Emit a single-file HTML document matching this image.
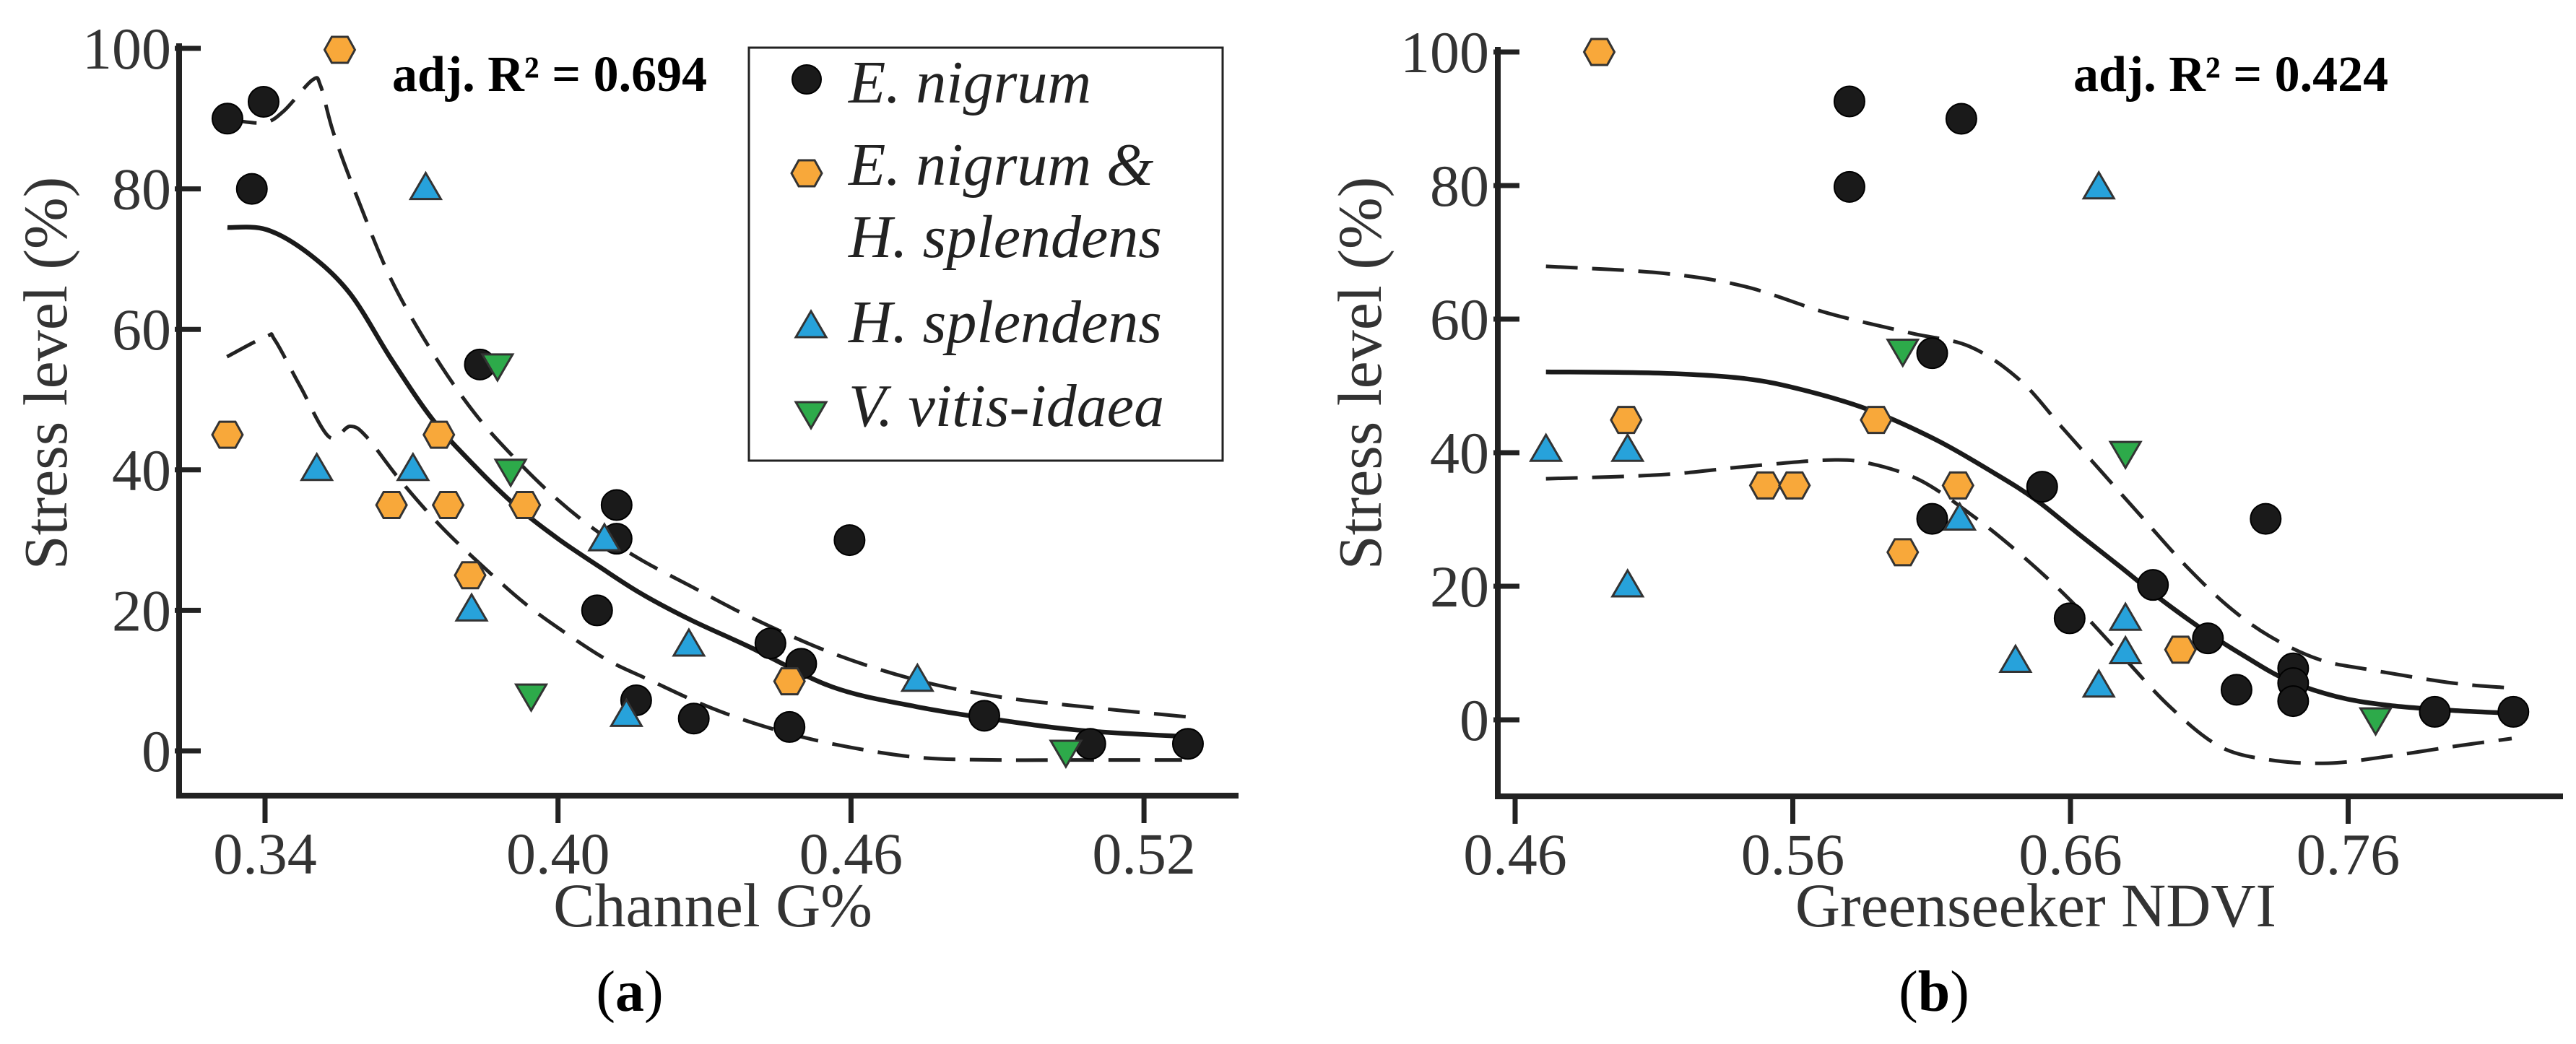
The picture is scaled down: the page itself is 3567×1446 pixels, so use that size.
<!DOCTYPE html>
<html><head><meta charset="utf-8"><style>
html,body{margin:0;padding:0;background:#fff;}
svg{display:block;font-family:"Liberation Serif",serif;}
</style></head><body>
<svg id="fig" width="3567" height="1446" viewBox="0 0 3567 1446" xmlns="http://www.w3.org/2000/svg">
<rect width="3567" height="1446" fill="#fff"/>
<g id="pa"></g>
<g id="pb"></g>
<g>
<rect x="1037" y="66" width="656" height="572" fill="#fff" stroke="#222" stroke-width="3"/>
<circle cx="1117" cy="110" r="20" fill="#1a1a1a" stroke="#000" stroke-width="2"/>
<text x="1175" y="142" font-size="84" font-style="italic" fill="#222">E. nigrum</text>
<polygon points="1096,240 1106,222 1128,222 1138,240 1128,258 1106,258" fill="#F8A83A" stroke="#333" stroke-width="3"/>
<text x="1175" y="256" font-size="84" font-style="italic" fill="#222">E. nigrum &amp;</text>
<text x="1175" y="356" font-size="84" font-style="italic" fill="#222">H. splendens</text>
<polygon points="1123,431 1102,467 1144,467" fill="#27A2DB" stroke="#333" stroke-width="3"/>
<text x="1175" y="474" font-size="84" font-style="italic" fill="#222">H. splendens</text>
<polygon points="1102,557 1144,557 1123,593" fill="#2DAA4A" stroke="#333" stroke-width="3"/>
<text x="1175" y="590" font-size="84" font-style="italic" fill="#222">V. vitis-idaea</text>
</g>
</svg>
<script>
// ---------- Panel A data ----------
const aBlackX=[0.3323,0.3397,0.3373,0.384,0.412,0.412,0.408,0.416,0.4278,0.4435,0.4498,0.4474,0.4597,0.4873,0.509,0.529];
const aBlackY=[90,92.4,80,55,35,30.2,20,7.2,4.6,15.3,12.4,3.4,30,5,1,1];
const aOrangeX=[0.3553,0.3323,0.3756,0.3659,0.3775,0.3932,0.382,0.4474];
const aOrangeY=[99.8,45,45,35,35,35,25,9.9];
const aBlueX=[0.3729,0.3506,0.3703,0.3823,0.4095,0.4268,0.414,0.4736];
const aBlueY=[80,40,40,20,30,15,5,10];
const aGreenX=[0.3876,0.3903,0.3945,0.504];
const aGreenY=[55,40,8,0];
const aFitX=[0.3323,0.3403,0.3489,0.3574,0.3659,0.3744,0.383,0.3915,0.4,0.4085,0.417,0.4273,0.4392,0.4562,0.4733,0.4903,0.5074,0.5295];
const aFitY=[74.5,74.2,70.8,65.1,55.7,47.1,40.5,34.8,30.2,26.2,22.4,18.6,14.8,9.1,6.3,4.4,2.9,2.0];
const aUpX=[0.3318,0.3395,0.3437,0.3497,0.3514,0.354,0.3591,0.3659,0.3744,0.383,0.3915,0.4,0.4085,0.417,0.4273,0.4392,0.4562,0.4733,0.4903,0.5074,0.5295];
const aUpY=[90,89.4,91,95.5,94.6,88,78.4,67,56.6,48,41.4,35.7,31,27.2,23.4,19.1,13.9,10.1,7.7,6.3,4.8];
const aLoX=[0.3322,0.3403,0.342,0.3472,0.3531,0.3574,0.3608,0.3676,0.3761,0.3847,0.3932,0.4017,0.4102,0.4187,0.4307,0.4426,0.4562,0.4733,0.4903,0.5074,0.5278];
const aLoY=[56.1,59,58.5,51.9,44.7,46.2,44.7,38.6,31.9,26.2,21,16.7,12.9,10.1,6.3,3.4,1.0,-0.9,-1.3,-1.3,-1.3];
const aXTicks=[0.34,0.40,0.46,0.52];
const aXTickLabels=["0.34","0.40","0.46","0.52"];
const yTicks=[0,20,40,60,80,100];
const yTickLabels=["0","20","40","60","80","100"];
// ---------- Panel B data ----------
const bBlackX=[0.5804,0.5804,0.6207,0.6102,0.6102,0.6498,0.6597,0.6897,0.7095,0.7198,0.7303,0.7402,0.7402,0.7402,0.7912,0.8195];
const bBlackY=[92.6,79.8,90,54.9,30.1,34.9,15.2,20.2,12.2,4.5,30.1,7.7,5.5,2.8,1.2,1.2];
const bOrangeX=[0.4903,0.5,0.5501,0.5606,0.59,0.5996,0.6195,0.6996];
const bOrangeY=[100,44.9,35.1,35.1,44.9,25.1,35.1,10.5];
const bBlueX=[0.4711,0.5005,0.5005,0.6201,0.6402,0.6702,0.6702,0.6798,0.6798];
const bBlueY=[40.3,40.3,20,30,8.7,79.6,5,15,10];
const bGreenX=[0.5996,0.6798,0.7699];
const bGreenY=[55.4,40.1,0.2];
const bFitX=[0.4711,0.5126,0.5426,0.5636,0.5876,0.6117,0.6327,0.6477,0.6627,0.6777,0.6927,0.7077,0.7228,0.7378,0.7556,0.7738,0.7978,0.8189];
const bFitY=[52.1,51.9,51.1,49.4,46.4,41.9,36.9,32.9,27.9,23,18,13.5,9.5,6,3.5,2.2,1.4,1];
const bUpX=[0.4711,0.5126,0.5426,0.5726,0.6026,0.6237,0.6417,0.6567,0.6717,0.6867,0.7017,0.7168,0.7318,0.7498,0.7678,0.7978,0.8174];
const bUpY=[67.9,66.9,64.9,60.9,57.9,55.9,50.9,43.9,36.9,29.9,23,17,12.5,9,7.5,5.5,4.8];
const bLoX=[0.4711,0.5126,0.5426,0.5726,0.5876,0.6057,0.6237,0.6417,0.6597,0.6777,0.6957,0.7138,0.7318,0.7528,0.7738,0.7978,0.8189];
const bLoY=[36.1,36.7,37.9,38.9,38.4,35.9,30.9,24.9,18,10,2,-4,-6,-6.5,-5.5,-4,-2.8];
const bXTicks=[0.46,0.56,0.66,0.76];
const bXTickLabels=["0.46","0.56","0.66","0.76"];

const NS="http://www.w3.org/2000/svg";
function mk(parent,tag,attrs){const e=document.createElementNS(NS,tag);for(const k in attrs)e.setAttribute(k,attrs[k]);parent.appendChild(e);return e;}
function smooth(P){
  let d=`M${P[0][0].toFixed(1)},${P[0][1].toFixed(1)}`;
  for(let i=0;i<P.length-1;i++){
    const p0=P[Math.max(0,i-1)],p1=P[i],p2=P[i+1],p3=P[Math.min(P.length-1,i+2)];
    const c1=[p1[0]+(p2[0]-p0[0])/6,p1[1]+(p2[1]-p0[1])/6];
    const c2=[p2[0]-(p3[0]-p1[0])/6,p2[1]-(p3[1]-p1[1])/6];
    d+=` C${c1[0].toFixed(1)},${c1[1].toFixed(1)} ${c2[0].toFixed(1)},${c2[1].toFixed(1)} ${p2[0].toFixed(1)},${p2[1].toFixed(1)}`;
  }
  return d;
}
function panel(g,cfg){
  const sx=v=>cfg.x0px+(v-cfg.x0)*cfg.xk;
  const sy=v=>cfg.y0px-(v)*cfg.yk;
  let e=mk(g,'polyline',{points:`${cfg.axX},${cfg.axTop} ${cfg.axX},${cfg.axY} ${cfg.axRight},${cfg.axY}`,fill:'none',stroke:'#222','stroke-width':8});
  
  
  yTicks.forEach((t,i)=>{
    const y=sy(t);
    let l=mk(g,'line',{x1:cfg.axX-6,x2:cfg.axX+30,y1:y,y2:y,stroke:'#222','stroke-width':7});
    
    
    let tx=mk(g,'text',{x:cfg.yLabX,y:y+28,'font-size':82,'text-anchor':'end',fill:'#333'});
    tx.textContent=yTickLabels[i];
    
    
  });
  cfg.xt.forEach((t,i)=>{
    const x=sx(t);
    let l=mk(g,'line',{x1:x,x2:x,y1:cfg.axY,y2:cfg.axY+38,stroke:'#222','stroke-width':7});
    
    
    let tx=mk(g,'text',{x:x,y:cfg.axY+108,'font-size':82,'text-anchor':'middle',fill:'#333'});
    tx.textContent=cfg.xtl[i];
    
    
  });
  const pts=(X,Y)=>X.map((v,i)=>[sx(v),sy(Y[i])]);
  let c=mk(g,'path',{d:smooth(pts(cfg.upX,cfg.upY)),fill:'none',stroke:'#222','stroke-width':5,'stroke-dasharray':'44 20'});
  
  
  c=mk(g,'path',{d:smooth(pts(cfg.loX,cfg.loY)),fill:'none',stroke:'#222','stroke-width':5,'stroke-dasharray':'44 20'});
  
  
  c=mk(g,'path',{d:smooth(pts(cfg.fitX,cfg.fitY)),fill:'none',stroke:'#1a1a1a','stroke-width':6.5});
  
  
  cfg.blX.forEach((v,i)=>{
    const m=mk(g,'circle',{cx:sx(v),cy:sy(cfg.blY[i]),r:21,fill:'#1a1a1a',stroke:'#000','stroke-width':2});
    
    
  });
  cfg.orX.forEach((v,i)=>{
    const x=sx(v),y=sy(cfg.orY[i]);
    const m=mk(g,'polygon',{points:`${x-21},${y} ${x-11},${y-18} ${x+11},${y-18} ${x+21},${y} ${x+11},${y+18} ${x-11},${y+18}`,fill:'#F8A83A',stroke:'#333','stroke-width':3});
    
    
  });
  cfg.buX.forEach((v,i)=>{
    const x=sx(v),y=sy(cfg.buY[i]);
    const m=mk(g,'polygon',{points:`${x},${y-22} ${x-21},${y+14} ${x+21},${y+14}`,fill:'#27A2DB',stroke:'#333','stroke-width':3});
    
    
  });
  cfg.grX.forEach((v,i)=>{
    const x=sx(v),y=sy(cfg.grY[i]);
    const m=mk(g,'polygon',{points:`${x-21},${y-14} ${x+21},${y-14} ${x},${y+22}`,fill:'#2DAA4A',stroke:'#333','stroke-width':3});
    
    
  });
  let t=mk(g,'text',{x:cfg.ytX,y:517,'font-size':86,'text-anchor':'middle',fill:'#333',transform:`rotate(-90 ${cfg.ytX} 517)`});
  t.textContent='Stress level (%)';
  
  
  t=mk(g,'text',{x:cfg.xtX,y:1283,'font-size':86,'text-anchor':'middle',fill:'#333'});
  t.textContent=cfg.xTitle;
  
  
  t=mk(g,'text',{x:cfg.r2X,y:126,'font-size':70,'font-weight':'bold',fill:'#000'});
  t.textContent=cfg.r2;
  
  
  t=mk(g,'text',{x:cfg.capX,y:1400,'font-size':80,'text-anchor':'middle',fill:'#000'});
  t.innerHTML='(<tspan font-weight="bold">'+cfg.cap+'</tspan>)';
  
  
}
panel(document.getElementById('pa'),{x0:0.34,x0px:367,xk:405.7/0.06,y0px:1040,yk:9.73,
  axX:248,axY:1102,axTop:60,axRight:1715,yLabX:237,xt:aXTicks,xtl:aXTickLabels,
  upX:aUpX,upY:aUpY,loX:aLoX,loY:aLoY,fitX:aFitX,fitY:aFitY,
  blX:aBlackX,blY:aBlackY,orX:aOrangeX,orY:aOrangeY,buX:aBlueX,buY:aBlueY,grX:aGreenX,grY:aGreenY,
  ytX:92,xtX:987,xTitle:'Channel G%',r2X:543,r2:'adj. R² = 0.694',capX:872,cap:'a'});
panel(document.getElementById('pb'),{x0:0.46,x0px:2098,xk:3845,y0px:997,yk:9.25,
  axX:2074,axY:1103,axTop:65,axRight:3549,yLabX:2062,xt:bXTicks,xtl:bXTickLabels,
  upX:bUpX,upY:bUpY,loX:bLoX,loY:bLoY,fitX:bFitX,fitY:bFitY,
  blX:bBlackX,blY:bBlackY,orX:bOrangeX,orY:bOrangeY,buX:bBlueX,buY:bBlueY,grX:bGreenX,grY:bGreenY,
  ytX:1912,xtX:2819,xTitle:'Greenseeker NDVI',r2X:2871,r2:'adj. R² = 0.424',capX:2678,cap:'b'});
</script>
</body></html>
